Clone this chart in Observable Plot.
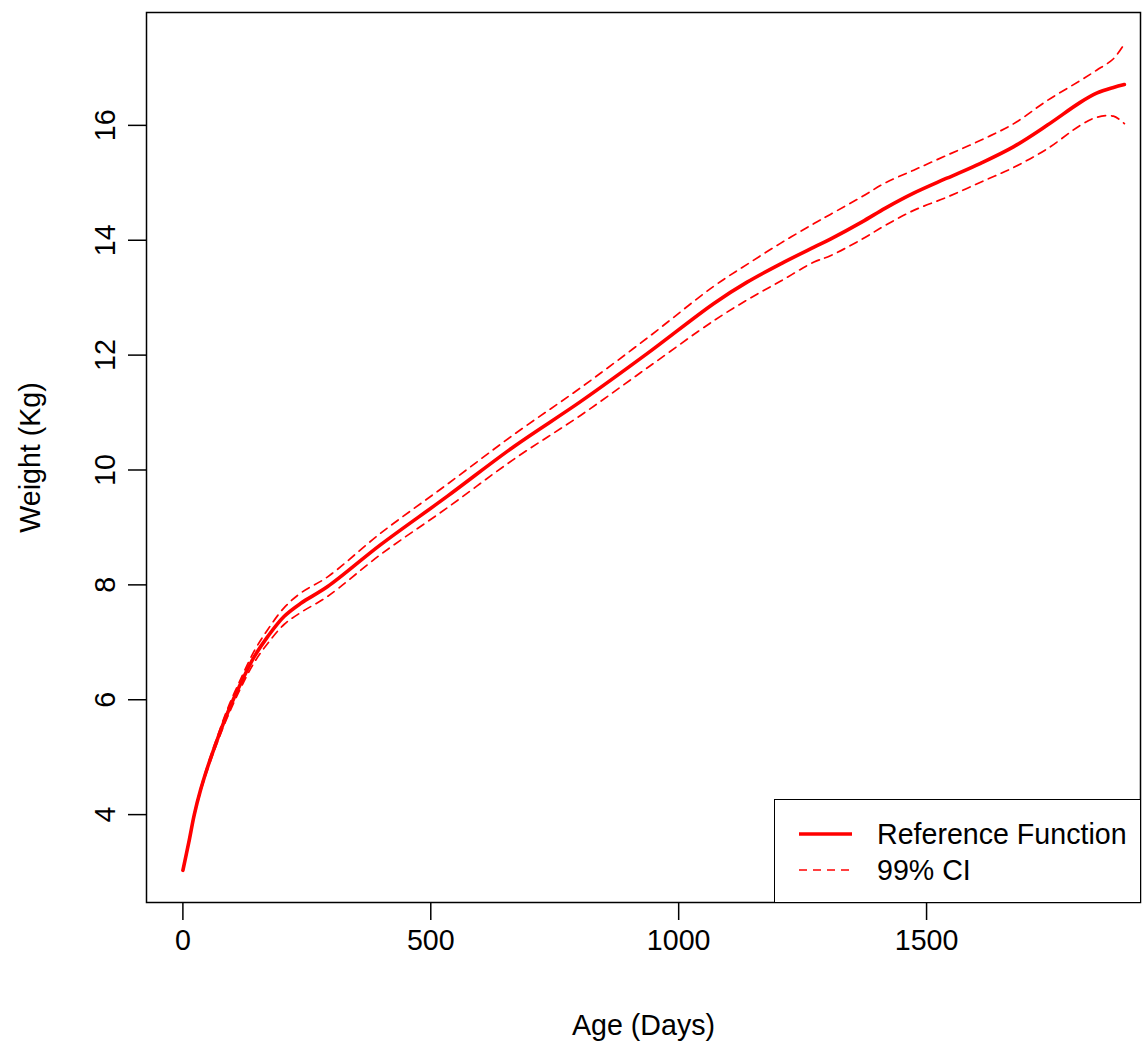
<!DOCTYPE html>
<html>
<head>
<meta charset="utf-8">
<script src="https://cdn.jsdelivr.net/npm/d3@7"></script>
<script src="https://cdn.jsdelivr.net/npm/@observablehq/plot@0.6"></script>
<style>
  html, body { margin: 0; padding: 0; background: white; }
  #wrap { position: relative; width: 1146px; height: 1047px; font-family: "Liberation Sans", Arial, sans-serif; }
  #legend { position: absolute; left: 774px; top: 799px; width: 367px; height: 104px; box-sizing: border-box; border: 1.5px solid black; background: white; }
</style>
</head>
<body>
<div id="wrap"></div>
<script>
// Age (days) sample points
const ages    = [0, 12, 23, 36, 50, 70, 90, 117, 144, 171, 204, 238, 292, 399, 533, 668, 802, 937, 1071, 1138, 1206, 1273, 1306, 1370, 1417, 1474, 1541, 1609, 1676, 1743, 1810, 1843, 1877, 1899];
// Reference function (fitted weight, kg)
const fit     = [3.03, 3.52, 4.00, 4.44, 4.83, 5.32, 5.77, 6.29, 6.75, 7.10, 7.45, 7.68, 7.97, 8.70, 9.54, 10.41, 11.19, 12.03, 12.90, 13.27, 13.59, 13.88, 14.02, 14.32, 14.56, 14.82, 15.08, 15.34, 15.63, 16.00, 16.40, 16.56, 16.66, 16.71];
// 99% CI upper bound
const ciUpper = [3.04, 3.54, 4.02, 4.47, 4.87, 5.37, 5.84, 6.37, 6.85, 7.22, 7.60, 7.86, 8.14, 8.90, 9.75, 10.62, 11.43, 12.30, 13.20, 13.58, 13.95, 14.29, 14.45, 14.76, 15.00, 15.22, 15.48, 15.74, 16.03, 16.43, 16.78, 16.96, 17.16, 17.42];
// 99% CI lower bound
const ciLower = [3.02, 3.50, 3.98, 4.41, 4.79, 5.27, 5.70, 6.21, 6.65, 6.98, 7.31, 7.52, 7.80, 8.53, 9.34, 10.19, 10.95, 11.78, 12.60, 12.96, 13.29, 13.62, 13.73, 14.02, 14.26, 14.52, 14.75, 15.01, 15.27, 15.59, 16.00, 16.14, 16.16, 16.03];

const xTicks = [0, 500, 1000, 1500];
const yTicks = [4, 6, 8, 10, 12, 14, 16];
const xTitle = "Age (Days)";
const yTitle = "Weight (Kg)";
const legendItems = ["Reference Function", "99% CI"];

const rows = ages.map((a, i) => ({age: a, fit: fit[i], upper: ciUpper[i], lower: ciLower[i]}));

const FONT = "'Liberation Sans', Arial, Helvetica, sans-serif";
const FS = 28.6;

const chart = Plot.plot({
  width: 1146,
  height: 1047,
  marginTop: 12,
  marginRight: 6,
  marginBottom: 145,
  marginLeft: 146,
  x: {domain: [-73.4, 1931.5]},
  y: {domain: [2.47, 17.965]},
  style: {fontFamily: FONT, fontSize: FS + "px", background: "white", color: "black", overflow: "visible"},
  marks: [
    Plot.axisX({ticks: xTicks, tickSize: 18, tickPadding: 9, tickFormat: d => String(d), label: null, strokeWidth: 1.5, stroke: "black", fill: "black", fontSize: FS}),
    Plot.axisY({ticks: yTicks, tickSize: 18, tickFormat: () => "", label: null, strokeWidth: 1.5, stroke: "black"}),
    Plot.text(yTicks, {y: d => d, text: d => String(d), frameAnchor: "left", dx: -41, rotate: -90, textAnchor: "middle", lineAnchor: "middle", fill: "black", fontSize: FS}),
    Plot.text([xTitle], {text: d => d, frameAnchor: "bottom", dy: 123, textAnchor: "middle", lineAnchor: "middle", fill: "black", fontSize: FS}),
    Plot.text([yTitle], {text: d => d, frameAnchor: "left", dx: -116, rotate: -90, textAnchor: "middle", lineAnchor: "middle", fill: "black", fontSize: FS}),
    Plot.line(rows, {x: "age", y: "upper", stroke: "#ff0000", strokeWidth: 1.7, strokeDasharray: "8,6", curve: "catmull-rom"}),
    Plot.line(rows, {x: "age", y: "lower", stroke: "#ff0000", strokeWidth: 1.7, strokeDasharray: "8,6", curve: "catmull-rom"}),
    Plot.line(rows, {x: "age", y: "fit", stroke: "#ff0000", strokeWidth: 3.6, curve: "catmull-rom"}),
    Plot.frame({stroke: "black", strokeWidth: 1.5})
  ]
});

const wrap = document.getElementById("wrap");
wrap.appendChild(chart);

// Legend overlay (bottom-right, inside the plot box)
const legend = document.createElement("div");
legend.id = "legend";
const ns = "http://www.w3.org/2000/svg";
const lsvg = document.createElementNS(ns, "svg");
lsvg.setAttribute("width", "364");
lsvg.setAttribute("height", "101");
lsvg.style.display = "block";
[[34, 3.6, null], [70, 1.7, "8,6"]].forEach(([cy, sw, dash], i) => {
  const ln = document.createElementNS(ns, "line");
  ln.setAttribute("x1", 24); ln.setAttribute("x2", 77);
  ln.setAttribute("y1", cy); ln.setAttribute("y2", cy);
  ln.setAttribute("stroke", "#ff0000");
  ln.setAttribute("stroke-width", sw);
  if (dash) ln.setAttribute("stroke-dasharray", dash);
  lsvg.appendChild(ln);
  const tx = document.createElementNS(ns, "text");
  tx.setAttribute("x", 102);
  tx.setAttribute("y", cy);
  tx.setAttribute("dy", "0.35em");
  tx.setAttribute("font-family", FONT);
  tx.setAttribute("font-size", FS);
  tx.setAttribute("fill", "black");
  tx.textContent = legendItems[i];
  lsvg.appendChild(tx);
});
legend.appendChild(lsvg);
wrap.appendChild(legend);
</script>
</body>
</html>
